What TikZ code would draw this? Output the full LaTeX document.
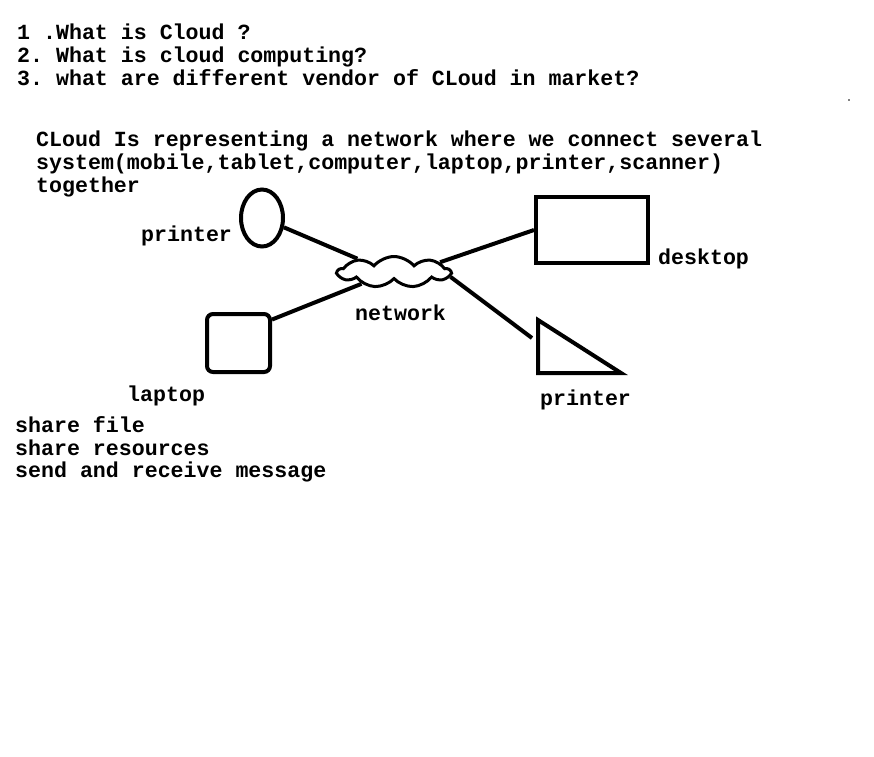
\documentclass[tikz,border=0pt]{standalone}
\usepackage{fontspec}
\setmainfont{Liberation Mono}
\usetikzlibrary{shapes.geometric,shapes.symbols}
\frenchspacing

\begin{document}
\begin{tikzpicture}[x=1pt,y=-1pt,
	txt/.style={anchor=base west,inner sep=0pt,font=\fontsize{21.6}{23}\selectfont\bfseries},
	thing/.style={draw,line width=4pt,inner sep=0pt},
	link/.style={line width=4pt}]
	\useasboundingbox (0,0) rectangle (874,756);
	
	% questions
	\node [txt] (q1) at (17,39) {1 .What is Cloud ?};
	\node [txt] (q2) at (17,62) {2. What is cloud computing?};
	\node [txt] (q3) at (17,85) {3. what are different vendor of CLoud in market?};
	\fill (849,100) circle (0.8);
	
	% answer
	\node [txt] (a1) at (36,146) {CLoud Is representing a network where we connect several};
	\node [txt] (a2) at (36,169) {system(mobile,tablet,computer,laptop,printer,scanner)};
	\node [txt] (a3) at (36,192) {together};
	
	% network
	\node (cloud) [cloud,draw,cloud puffs=9,cloud puff arc=100,cloud ignores aspect,minimum width=112pt,minimum height=31pt,line width=3pt] at (394,272) {};
	\node [txt] (netlbl) at (355,320) {network};
	
	\node (prn1) [thing,ellipse,minimum width=42pt,minimum height=57pt] at (262,218) {};
	\node [txt] (prn1lbl) at (141,241) {printer};
	
	\node (desk) [thing,rectangle,minimum width=112pt,minimum height=66pt] at (592,230) {};
	\node [txt] (desklbl) at (658,264) {desktop};
	
	\node (lap) [thing,rectangle,rounded corners=6pt,minimum width=63pt,minimum height=58pt] at (238.5,343) {};
	\node [txt] (laplbl) at (127,401) {laptop};
	
	\coordinate (prn2) at (532,338);
	\draw [link,line join=miter] (538,320) -- (538,373) -- (621,373) -- cycle;
	\node [txt] (prn2lbl) at (540,405) {printer};
	
	\path [-]
	(prn1) edge [link] (cloud.160)
	(desk.west) edge [link] (cloud.12)
	(lap.35) edge [link] (cloud.200)
	(prn2) edge [link] (cloud.-5);
	
	% uses
	\node [txt] (u1) at (15,432) {share file};
	\node [txt] (u2) at (15,455) {share resources};
	\node [txt] (u3) at (15,477) {send and receive message};
\end{tikzpicture}
\end{document}
